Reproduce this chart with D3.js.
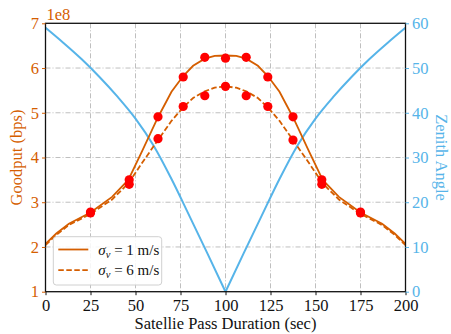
<!DOCTYPE html>
<html><head><meta charset="utf-8">
<script src="https://cdn.jsdelivr.net/npm/d3@7"></script>
<style>body{margin:0;background:#fff}svg{display:block}</style>
</head><body>
<svg id="c" width="451" height="334"></svg>
<script>
// ---- data ----
const lineX = [0, 6, 13, 25, 37, 46, 54, 62.5, 70, 76.5, 82, 88.5, 94, 100, 106, 111.5, 118, 123.5, 130, 137.5, 146, 154, 163, 175, 187, 194, 200];
const goodputSolid = [2.07, 2.30, 2.52, 2.77, 3.12, 3.50, 4.17, 4.90, 5.47, 5.82, 6.05, 6.21, 6.27, 6.28, 6.27, 6.21, 6.05, 5.82, 5.47, 4.90, 4.17, 3.50, 3.12, 2.77, 2.52, 2.30, 2.07];
const goodputDashed = [2.04, 2.27, 2.49, 2.74, 3.06, 3.42, 3.90, 4.39, 4.82, 5.12, 5.33, 5.48, 5.56, 5.59, 5.56, 5.48, 5.33, 5.12, 4.82, 4.39, 3.90, 3.42, 3.06, 2.74, 2.49, 2.27, 2.04];
const markerX = [25, 46.5, 62.5, 76.5, 88.5, 100, 111.5, 123.5, 137.5, 153.5, 175];
const markerSolid = [2.78, 3.50, 4.91, 5.80, 6.24, 6.22, 6.24, 5.80, 4.91, 3.50, 2.78];
const markerDashed = [2.76, 3.40, 4.42, 5.14, 5.38, 5.59, 5.38, 5.14, 4.39, 3.40, 2.76];
const zenithX = [0, 10, 20, 30, 40, 50, 60, 70, 80, 90, 100, 110, 120, 130, 140, 150, 160, 170, 180, 190, 200];
const zenithAngle = [59, 55.6, 52.0, 48.0, 43.6, 38.7, 32.7, 25.2, 16.9, 8.5, 0, 8.5, 16.9, 25.2, 32.7, 38.7, 43.6, 48.0, 52.0, 55.6, 59];
const xTicks = [0, 25, 50, 75, 100, 125, 150, 175, 200];
const yLeftTicks = [1, 2, 3, 4, 5, 6, 7];
const yRightTicks = [0, 10, 20, 30, 40, 50, 60];
const legendLabels = ["σ_v = 1 m/s", "σ_v = 6 m/s"];

// ---- drawing ----
const ORANGE = "#D55E00", BLUE = "#56B4E9", RED = "#ff0000";
const FONT = "'Liberation Serif', 'Times New Roman', serif";
const L = 45.5, R = 405.5, T = 23.3, B = 291.7;
const svg = d3.select("#c");
const x = d3.scaleLinear().domain([0, 200]).range([L, R]);
const yL = d3.scaleLinear().domain([1, 7]).range([B, T]);
const yR = d3.scaleLinear().domain([0, 60]).range([B, T]);

// grid
const grid = svg.append("g").attr("stroke", "#b8b8b8").attr("stroke-width", 0.9)
  .attr("stroke-dasharray", "5,2,1,2");
xTicks.slice(1, -1).forEach(v => grid.append("line")
  .attr("x1", x(v)).attr("x2", x(v)).attr("y1", T).attr("y2", B));
yLeftTicks.slice(1, -1).forEach(v => grid.append("line")
  .attr("x1", L).attr("x2", R).attr("y1", yL(v)).attr("y2", yL(v)));

// zenith curve (two smooth halves meeting at the minimum)
const zPts = zenithX.map((d, i) => [d, zenithAngle[i]]);
const zl = d3.line().x(d => x(d[0])).y(d => yR(d[1])).curve(d3.curveMonotoneX);
[zPts.filter(d => d[0] <= 100), zPts.filter(d => d[0] >= 100)].forEach(part =>
  svg.append("path").datum(part).attr("fill", "none").attr("stroke", BLUE)
    .attr("stroke-width", 2).attr("stroke-linejoin", "round").attr("d", zl));

// goodput lines
const gl = d3.line().x(d => x(d[0])).y(d => yL(d[1]));
svg.append("path").datum(lineX.map((d, i) => [d, goodputSolid[i]]))
  .attr("fill", "none").attr("stroke", ORANGE).attr("stroke-width", 1.8).attr("d", gl);
svg.append("path").datum(lineX.map((d, i) => [d, goodputDashed[i]]))
  .attr("fill", "none").attr("stroke", ORANGE).attr("stroke-width", 1.8)
  .attr("stroke-dasharray", "5.5,2.5").attr("d", gl);

// markers
[markerSolid, markerDashed].forEach(arr => {
  svg.append("g").selectAll("circle").data(markerX.map((d, i) => [d, arr[i]]))
    .join("circle").attr("cx", d => x(d[0])).attr("cy", d => yL(d[1]))
    .attr("r", 4.6).attr("fill", RED);
});

// frame
svg.append("rect").attr("x", L).attr("y", T).attr("width", R - L).attr("height", B - T)
  .attr("fill", "none").attr("stroke", "#111").attr("stroke-width", 1.3);

// axes
const ax = svg.append("g").attr("transform", `translate(0,${B})`)
  .call(d3.axisBottom(x).tickValues(xTicks).tickSize(3.5).tickPadding(4).tickFormat(d3.format("d")));
const al = svg.append("g").attr("transform", `translate(${L},0)`)
  .call(d3.axisLeft(yL).tickValues(yLeftTicks).tickSize(3.5).tickPadding(3).tickFormat(d3.format("d")));
const ar = svg.append("g").attr("transform", `translate(${R},0)`)
  .call(d3.axisRight(yR).tickValues(yRightTicks).tickSize(3.5).tickPadding(3).tickFormat(d3.format("d")));
[ax, al, ar].forEach(g => { g.select(".domain").remove();
  g.selectAll("text").attr("font-family", FONT).attr("font-size", 16.5); });
ax.selectAll("line").attr("stroke", "#111");
ax.selectAll("text").attr("fill", "#111");
al.selectAll("line").attr("stroke", ORANGE);
al.selectAll("text").attr("fill", ORANGE);
ar.selectAll("line").attr("stroke", BLUE);
ar.selectAll("text").attr("fill", BLUE);

// labels
svg.append("text").attr("x", L + 1).attr("y", 20).attr("fill", ORANGE)
  .attr("font-family", FONT).attr("font-size", 16.5).text("1e8");
svg.append("text").attr("x", (L + R) / 2).attr("y", 329).attr("text-anchor", "middle")
  .attr("fill", "#111").attr("font-family", FONT).attr("font-size", 16.5)
  .text("Satellie Pass Duration (sec)");
svg.append("text").attr("transform", `translate(22,${(T + B) / 2}) rotate(-90)`)
  .attr("text-anchor", "middle").attr("fill", ORANGE).attr("font-family", FONT)
  .attr("font-size", 16.5).text("Goodput (bps)");
svg.append("text").attr("transform", `translate(436,${(T + B) / 2}) rotate(90)`)
  .attr("text-anchor", "middle").attr("fill", BLUE).attr("font-family", FONT)
  .attr("font-size", 16.5).text("Zenith Angle");

// legend
const lg = svg.append("g");
lg.append("rect").attr("x", 53.3).attr("y", 236.7).attr("width", 108.4).attr("height", 48.3)
  .attr("rx", 3).attr("fill", "#fff").attr("fill-opacity", 0.85)
  .attr("stroke", "#d0d0d0").attr("stroke-width", 1);
legendLabels.forEach((lab, i) => {
  const yy = 249.5 + i * 20.7;
  lg.append("line").attr("x1", 58.3).attr("x2", 88.3).attr("y1", yy).attr("y2", yy)
    .attr("stroke", ORANGE).attr("stroke-width", 1.8)
    .attr("stroke-dasharray", i === 1 ? "5.5,2.5" : null);
  const parts = lab.split(" = ");
  const t = lg.append("text").attr("x", 98.3).attr("y", yy + 5).attr("fill", "#111")
    .attr("font-family", FONT).attr("font-size", 15);
  t.append("tspan").attr("font-style", "italic").text("σ");
  t.append("tspan").attr("font-style", "italic").attr("font-size", 10.5).attr("dy", 3).text("v");
  t.append("tspan").attr("dy", -3).text(" = " + parts[1]);
});
</script>
</body></html>
